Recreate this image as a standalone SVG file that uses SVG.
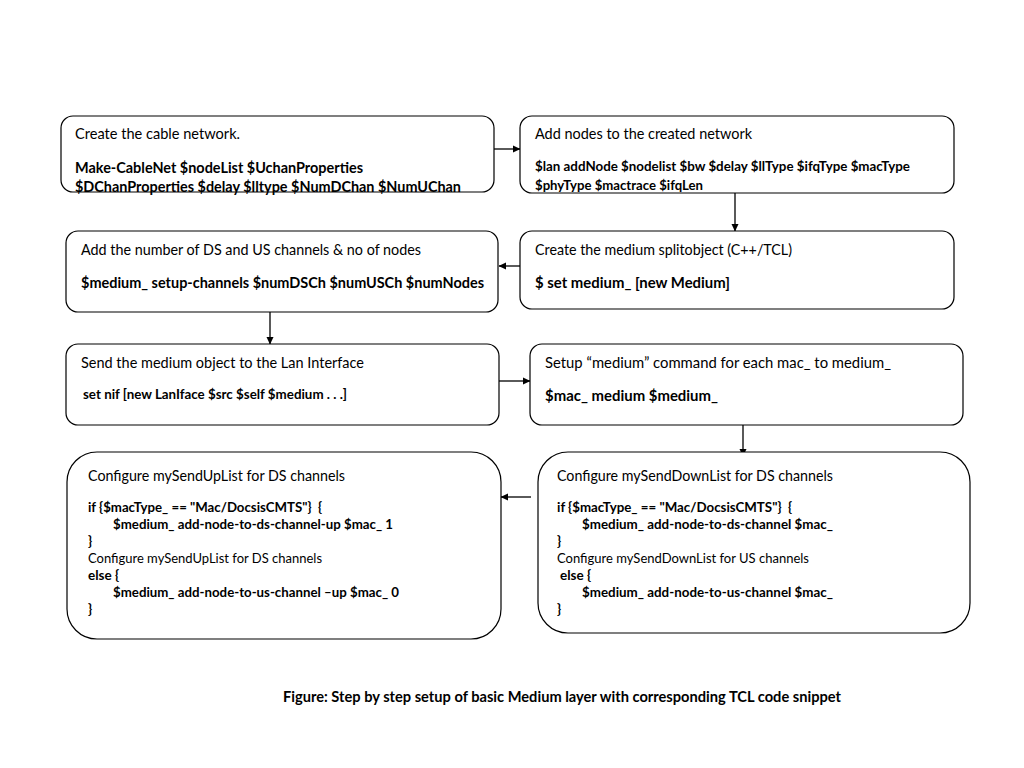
<svg xmlns="http://www.w3.org/2000/svg" width="1024" height="768" viewBox="0 0 1024 768">
<defs>
<marker id="ah" markerWidth="8" markerHeight="8" refX="7" refY="4" orient="auto" markerUnits="userSpaceOnUse">
<path d="M0,0.5 L7.5,4 L0,7.5 Z" fill="#000"/>
</marker>
<style>
.box{fill:#fff;stroke:#000;stroke-width:1.2}
.t{font-family:Lato,"Liberation Sans",sans-serif;font-size:15px;fill:#000}
.b{font-family:Lato,"Liberation Sans",sans-serif;font-size:15px;font-weight:bold;fill:#000}
.s{font-family:Lato,"Liberation Sans",sans-serif;font-size:13.5px;fill:#000}
.sb{font-family:Lato,"Liberation Sans",sans-serif;font-size:13.5px;font-weight:bold;fill:#000}
.c{stroke:#000;stroke-width:1.3;fill:none;marker-end:url(#ah)}
</style>
</defs>
<rect width="1024" height="768" fill="#fff"/>
<g id="connectors">
<line class="c" x1="494" y1="149" x2="520" y2="149"/>
<line class="c" x1="735" y1="193" x2="735" y2="231"/>
<line class="c" x1="520" y1="266" x2="499" y2="266"/>
<line class="c" x1="270" y1="312" x2="270" y2="344"/>
<line class="c" x1="499" y1="381" x2="530" y2="381"/>
<line class="c" x1="743" y1="425" x2="743" y2="456"/>
<line class="c" x1="531" y1="497" x2="501" y2="497"/>
</g>
<g id="n1">
<rect class="box" x="61" y="116" width="433" height="76" rx="12"/>
<text class="t" x="75" y="139" textLength="165" lengthAdjust="spacingAndGlyphs">Create the cable network.</text>
<text class="b" x="75" y="173" textLength="288" lengthAdjust="spacingAndGlyphs">Make-CableNet $nodeList $UchanProperties</text>
<text class="b" x="75" y="192" textLength="386" lengthAdjust="spacingAndGlyphs">$DChanProperties $delay $lltype $NumDChan $NumUChan</text>
</g>
<g id="n2">
<rect class="box" x="520" y="116" width="434" height="77" rx="12"/>
<text class="t" x="535" y="139" textLength="217" lengthAdjust="spacingAndGlyphs">Add nodes to the created network</text>
<text class="sb" x="535" y="171" textLength="375" lengthAdjust="spacingAndGlyphs">$lan addNode $nodelist $bw $delay $llType $ifqType $macType</text>
<text class="sb" x="535" y="190" textLength="168" lengthAdjust="spacingAndGlyphs">$phyType $mactrace $ifqLen</text>
</g>
<g id="n3">
<rect class="box" x="520" y="231" width="434" height="78" rx="12"/>
<text class="t" x="535" y="255" textLength="257" lengthAdjust="spacingAndGlyphs">Create the medium splitobject (C++/TCL)</text>
<text class="b" x="535" y="288" textLength="195" lengthAdjust="spacingAndGlyphs">$ set medium_ [new Medium]</text>
</g>
<g id="n4">
<rect class="box" x="66" y="231" width="432" height="81" rx="12"/>
<text class="t" x="81" y="255" textLength="340" lengthAdjust="spacingAndGlyphs">Add the number of DS and US channels &amp; no of nodes</text>
<text class="b" x="81" y="288" textLength="403" lengthAdjust="spacingAndGlyphs">$medium_ setup-channels $numDSCh $numUSCh $numNodes</text>
</g>
<g id="n5">
<rect class="box" x="66" y="344" width="433" height="81" rx="12"/>
<text class="t" x="81" y="368" textLength="283" lengthAdjust="spacingAndGlyphs">Send the medium object to the Lan Interface</text>
<text class="sb" x="83" y="399" textLength="264" lengthAdjust="spacingAndGlyphs">set nif [new LanIface $src $self $medium . . .]</text>
</g>
<g id="n6">
<rect class="box" x="530" y="344" width="433" height="81" rx="12"/>
<text class="t" x="545" y="368" textLength="346" lengthAdjust="spacingAndGlyphs">Setup “medium” command for each mac_ to medium_</text>
<text class="b" x="545" y="401" textLength="173" lengthAdjust="spacingAndGlyphs">$mac_ medium $medium_</text>
</g>
<g id="n7">
<rect class="box" x="538" y="452" width="432" height="181" rx="30"/>
<text class="t" x="557" y="481" textLength="276" lengthAdjust="spacingAndGlyphs">Configure mySendDownList for DS channels</text>
<text class="sb" x="557" y="512" textLength="235" lengthAdjust="spacingAndGlyphs">if {$macType_ == "Mac/DocsisCMTS"}&#160; {</text>
<text class="sb" x="582" y="529" textLength="251" lengthAdjust="spacingAndGlyphs">$medium_ add-node-to-ds-channel $mac_</text>
<text class="sb" x="557" y="546">}</text>
<text class="s" x="557" y="563" textLength="252" lengthAdjust="spacingAndGlyphs">Configure mySendDownList for US channels</text>
<text class="sb" x="560" y="580">else {</text>
<text class="sb" x="582" y="597" textLength="251" lengthAdjust="spacingAndGlyphs">$medium_ add-node-to-us-channel $mac_</text>
<text class="sb" x="557" y="614">}</text>
</g>
<g id="n8">
<rect class="box" x="67" y="452" width="434" height="187" rx="30"/>
<text class="t" x="88" y="481" textLength="257" lengthAdjust="spacingAndGlyphs">Configure mySendUpList for DS channels</text>
<text class="sb" x="88" y="512" textLength="234" lengthAdjust="spacingAndGlyphs">if {$macType_ == "Mac/DocsisCMTS"}&#160; {</text>
<text class="sb" x="113" y="529" textLength="280" lengthAdjust="spacingAndGlyphs">$medium_ add-node-to-ds-channel-up $mac_ 1</text>
<text class="sb" x="88" y="546">}</text>
<text class="s" x="88" y="563" textLength="234" lengthAdjust="spacingAndGlyphs">Configure mySendUpList for DS channels</text>
<text class="sb" x="88" y="580">else {</text>
<text class="sb" x="113" y="597" textLength="286" lengthAdjust="spacingAndGlyphs">$medium_ add-node-to-us-channel –up $mac_ 0</text>
<text class="sb" x="88" y="614">}</text>
</g>
<text class="b" x="283" y="702" textLength="558" lengthAdjust="spacingAndGlyphs">Figure: Step by step setup of basic Medium layer with corresponding TCL code snippet</text>
</svg>
